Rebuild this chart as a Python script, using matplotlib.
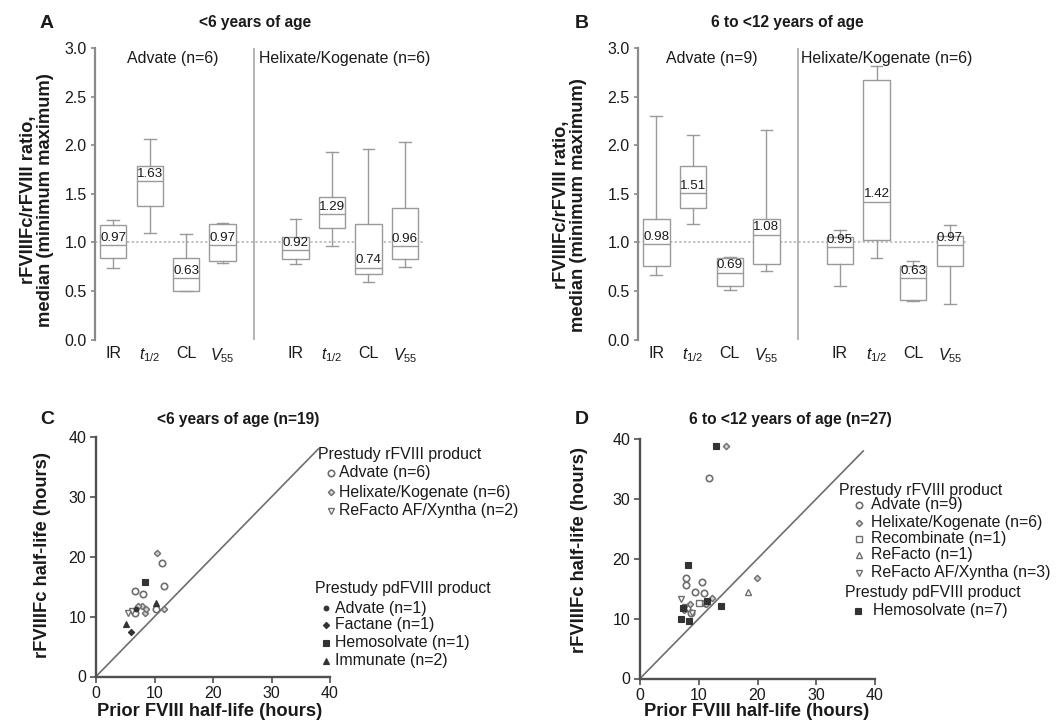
import matplotlib
matplotlib.use("Agg")
import matplotlib.pyplot as plt
from matplotlib.lines import Line2D

plt.rcParams['font.family'] = ['Liberation Sans', 'DejaVu Sans']
plt.rcParams['mathtext.fontset'] = 'custom'
plt.rcParams['mathtext.rm'] = 'Liberation Sans'
plt.rcParams['mathtext.it'] = 'Liberation Sans:italic'

W, H = 1059, 723

# ---- box plot data (ratio rFVIIIFc / rFVIII) ----
params = ['IR', r'$t_{1/2}$', 'CL', r'$V_{55}$']

# panel A, <6 years: Advate then Helixate/Kogenate
a_whislo = [0.74, 1.10, 0.50, 0.79, 0.78, 0.96, 0.59, 0.75]
a_q1     = [0.835, 1.38, 0.50, 0.81, 0.825, 1.145, 0.67, 0.825]
a_med    = [0.97, 1.63, 0.63, 0.97, 0.92, 1.29, 0.74, 0.96]
a_q3     = [1.175, 1.785, 0.835, 1.19, 1.055, 1.47, 1.19, 1.355]
a_whishi = [1.23, 2.07, 1.09, 1.20, 1.245, 1.935, 1.96, 2.035]

# panel B, 6 to <12 years
b_whislo = [0.66, 1.19, 0.51, 0.71, 0.555, 0.84, 0.393, 0.366]
b_q1     = [0.76, 1.355, 0.555, 0.775, 0.782, 1.023, 0.407, 0.755]
b_med    = [0.98, 1.51, 0.69, 1.08, 0.95, 1.42, 0.63, 0.97]
b_q3     = [1.24, 1.785, 0.835, 1.24, 1.054, 2.67, 0.755, 1.068]
b_whishi = [2.30, 2.11, 0.85, 2.16, 1.123, 2.82, 0.813, 1.18]

box_pos = [1, 2, 3, 4, 6, 7, 8, 9]

# ---- scatter data (half-life, hours): prior FVIII vs rFVIIIFc ----
c_adv_x = [11.3, 11.6, 6.7, 8.0, 6.7, 10.2]
c_adv_y = [19.0, 15.1, 14.2, 13.8, 10.6, 11.3]
c_hk_x = [10.5, 8.4, 11.7, 7.8, 8.6, 7.1]
c_hk_y = [20.6, 10.6, 11.2, 11.7, 11.3, 11.7]
c_raf_x = [5.5, 6.1]
c_raf_y = [10.6, 10.9]
c_pdadv_x, c_pdadv_y = [6.8], [11.2]
c_fac_x, c_fac_y = [5.9], [7.4]
c_hemo_x, c_hemo_y = [8.4], [15.7]
c_imm_x = [10.2, 5.2]
c_imm_y = [12.3, 8.8]

d_adv_x = [11.75, 7.85, 7.85, 10.6, 9.4, 10.85, 8.6, 8.0, 11.0]
d_adv_y = [33.5, 16.8, 15.6, 16.2, 14.4, 14.3, 10.9, 11.8, 12.6]
d_hk_x = [14.7, 19.9, 12.3, 11.2, 8.5, 7.5]
d_hk_y = [38.8, 16.8, 13.4, 12.5, 12.4, 11.5]
d_rec_x, d_rec_y = [10.0], [12.6]
d_ref_x, d_ref_y = [18.4], [14.4]
d_raf_x = [7.0, 7.6, 8.8]
d_raf_y = [13.3, 12.0, 11.0]
d_hemo_x = [12.9, 8.2, 13.8, 6.9, 8.3, 11.4, 7.3]
d_hemo_y = [38.9, 18.9, 12.1, 9.9, 9.6, 12.9, 11.8]

diag = [0, 38]

GREY = '#6e6e6e'
DARK = '#333333'
TXT = '#1a1a1a'

st_adv = dict(marker='o', ms=4.6, mfc='white', mec=GREY, mew=1.2)
st_hk = dict(marker='D', ms=3.2, mfc='#cfcfcf', mec=GREY, mew=1.0)
st_raf = dict(marker='v', ms=4.6, mfc='white', mec=GREY, mew=1.0)
st_rec = dict(marker='s', ms=4.4, mfc='white', mec=GREY, mew=1.0)
st_ref = dict(marker='^', ms=4.6, mfc='white', mec=GREY, mew=1.0)
st_pdadv = dict(marker='o', ms=3.4, mfc=DARK, mec=DARK, mew=0.8)
st_fac = dict(marker='D', ms=3.2, mfc=DARK, mec=DARK, mew=0.8)
st_hemo = dict(marker='s', ms=4.3, mfc=DARK, mec=DARK, mew=0.8)
st_imm = dict(marker='^', ms=4.3, mfc=DARK, mec=DARK, mew=0.8)

fig = plt.figure(figsize=(W / 100, H / 100), dpi=100)


def px_axes(l, t, r, b):
    return fig.add_axes([l / W, 1 - b / H, (r - l) / W, (b - t) / H])


def ftext(x, y, s, **kw):
    kw.setdefault('color', TXT)
    return fig.text(x / W, 1 - y / H, s, **kw)


def box_panel(ax, whislo, q1, med, q3, whishi, groups):
    stats = []
    for i in range(len(med)):
        stats.append(dict(whislo=whislo[i], q1=q1[i], med=med[i], q3=q3[i],
                          whishi=whishi[i], fliers=[]))
    line = dict(color='#9a9a9a', linewidth=1.0)
    ax.hlines(1.0, 0.5, 9.5, colors='#b0b0b0', linestyles=(0, (1.5, 1.5)),
              linewidth=1.1, zorder=1)
    ax.bxp(stats, positions=box_pos, widths=0.72, capwidths=0.32,
           patch_artist=True, showfliers=False, manage_ticks=False,
           boxprops=dict(facecolor='white', edgecolor='#9a9a9a', linewidth=1.0),
           medianprops=line, whiskerprops=line, capprops=line, zorder=2)
    for p, m in zip(box_pos, med):
        ax.text(p, m + 0.075, f'{m:.2f}', ha='center', va='center',
                fontsize=9.6, color=TXT, zorder=3)
    ax.axvline(4.85, color='#a8a8a8', linewidth=1.2)
    for gx, g in groups:
        ax.text(gx, 2.9, g, ha='center', va='center', fontsize=11.4, color=TXT)
    ax.set_xlim(0.5, 9.6)
    ax.set_ylim(0, 3.0)
    ax.set_yticks([0, 0.5, 1.0, 1.5, 2.0, 2.5, 3.0])
    ax.set_yticklabels(['0.0', '0.5', '1.0', '1.5', '2.0', '2.5', '3.0'])
    ax.set_xticks(box_pos)
    ax.set_xticklabels(params * 2)
    for s in ['top', 'right', 'bottom']:
        ax.spines[s].set_visible(False)
    ax.spines['left'].set_color('#8a8a8a')
    ax.spines['left'].set_linewidth(1.6)
    ax.tick_params(axis='y', length=3, width=1.2, color='#8a8a8a', pad=3,
                   labelsize=11.5, labelcolor=TXT)
    ax.tick_params(axis='x', length=0, pad=5, labelsize=11.5, labelcolor=TXT)


def scatter_panel(ax, series):
    ax.plot(diag, diag, color=GREY, linewidth=1.2, zorder=1)
    for xs, ys, st in series:
        ax.plot(xs, ys, ls='none', zorder=3, **st)
    ax.set_xlim(0, 40)
    ax.set_ylim(0, 40)
    ticks = [0, 10, 20, 30, 40]
    ax.set_xticks(ticks)
    ax.set_yticks(ticks)
    for s in ['top', 'right']:
        ax.spines[s].set_visible(False)
    for s in ['left', 'bottom']:
        ax.spines[s].set_color('#505050')
        ax.spines[s].set_linewidth(1.7)
    ax.tick_params(length=4, width=1.2, color='#505050', pad=3,
                   labelsize=11.5, labelcolor=TXT)
    ax.set_clip_on(False)


def legend_block(x_head, y_head, x_mark, x_text, rows, header):
    ftext(x_head, y_head, header, ha='left', va='center', fontsize=11.4)
    for y, st, lab in rows:
        fig.add_artist(Line2D([x_mark / W], [1 - y / H], transform=fig.transFigure,
                              ls='none', **st))
        ftext(x_text, y, lab, ha='left', va='center', fontsize=11.4)


# ---- panel A ----
axA = px_axes(95, 48.3, 95 + 9.1 * 36.46, 339.5)
box_panel(axA, a_whislo, a_q1, a_med, a_q3, a_whishi,
          [(2.64, 'Advate (n=6)'), (7.36, 'Helixate/Kogenate (n=6)')])
ftext(47, 23, 'A', ha='center', va='center', fontsize=14, weight='bold')
ftext(255, 23, '<6 years of age', ha='center', va='center', fontsize=11.2, weight='bold')
ftext(37, 200, 'rFVIIIFc/rFVIII ratio,\nmedian (minimum maximum)', rotation=90,
      ha='center', va='center', fontsize=13.2, weight='bold', linespacing=1.05,
      multialignment='center')

# ---- panel B ----
axB = px_axes(638, 48.3, 638 + 9.1 * 36.7, 339.5)
box_panel(axB, b_whislo, b_q1, b_med, b_q3, b_whishi,
          [(2.52, 'Advate (n=9)'), (7.28, 'Helixate/Kogenate (n=6)')])
ftext(582, 23, 'B', ha='center', va='center', fontsize=14, weight='bold')
ftext(787, 23, '6 to <12 years of age', ha='center', va='center', fontsize=11.2, weight='bold')
ftext(570, 205, 'rFVIIIFc/rFVIII ratio,\nmedian (minimum maximum)', rotation=90,
      ha='center', va='center', fontsize=13.2, weight='bold', linespacing=1.05,
      multialignment='center')

# ---- panel C ----
axC = px_axes(96, 437, 330, 676.5)
scatter_panel(axC, [(c_adv_x, c_adv_y, st_adv), (c_hk_x, c_hk_y, st_hk),
                    (c_raf_x, c_raf_y, st_raf), (c_pdadv_x, c_pdadv_y, st_pdadv),
                    (c_fac_x, c_fac_y, st_fac), (c_hemo_x, c_hemo_y, st_hemo),
                    (c_imm_x, c_imm_y, st_imm)])
ftext(47, 419, 'C', ha='center', va='center', fontsize=14, weight='bold')
ftext(238, 419, '<6 years of age (n=19)', ha='center', va='center', fontsize=11.2, weight='bold')
ftext(43, 555, 'rFVIIIFc half-life (hours)', rotation=90, ha='center', va='center',
      fontsize=13.2, weight='bold')
ftext(210, 712, 'Prior FVIII half-life (hours)', ha='center', va='center',
      fontsize=13.2, weight='bold')
legend_block(318, 454, 331, 339,
             [(473, st_adv, 'Advate (n=6)'),
              (492, st_hk, 'Helixate/Kogenate (n=6)'),
              (511, st_raf, 'ReFacto AF/Xyntha (n=2)')],
             'Prestudy rFVIII product')
legend_block(315, 589, 326, 335,
             [(608, st_pdadv, 'Advate (n=1)'),
              (625, st_fac, 'Factane (n=1)'),
              (643, st_hemo, 'Hemosolvate (n=1)'),
              (661, st_imm, 'Immunate (n=2)')],
             'Prestudy pdFVIII product')

# ---- panel D ----
axD = px_axes(640, 439, 875, 678.5)
scatter_panel(axD, [(d_adv_x, d_adv_y, st_adv), (d_hk_x, d_hk_y, st_hk),
                    (d_rec_x, d_rec_y, st_rec), (d_ref_x, d_ref_y, st_ref),
                    (d_raf_x, d_raf_y, st_raf), (d_hemo_x, d_hemo_y, st_hemo)])
ftext(582, 419, 'D', ha='center', va='center', fontsize=14, weight='bold')
ftext(790, 419, '6 to <12 years of age (n=27)', ha='center', va='center', fontsize=11.2, weight='bold')
ftext(580, 550, 'rFVIIIFc half-life (hours)', rotation=90, ha='center', va='center',
      fontsize=13.2, weight='bold')
ftext(757, 712, 'Prior FVIII half-life (hours)', ha='center', va='center',
      fontsize=13.2, weight='bold')
legend_block(839, 490, 859, 871,
             [(505, st_adv, 'Advate (n=9)'),
              (523, st_hk, 'Helixate/Kogenate (n=6)'),
              (539, st_rec, 'Recombinate (n=1)'),
              (555, st_ref, 'ReFacto (n=1)'),
              (573, st_raf, 'ReFacto AF/Xyntha (n=3)')],
             'Prestudy rFVIII product')
legend_block(845, 592, 858, 873,
             [(611, st_hemo, 'Hemosolvate (n=7)')],
             'Prestudy pdFVIII product')

fig.savefig('out.png', dpi=100)
